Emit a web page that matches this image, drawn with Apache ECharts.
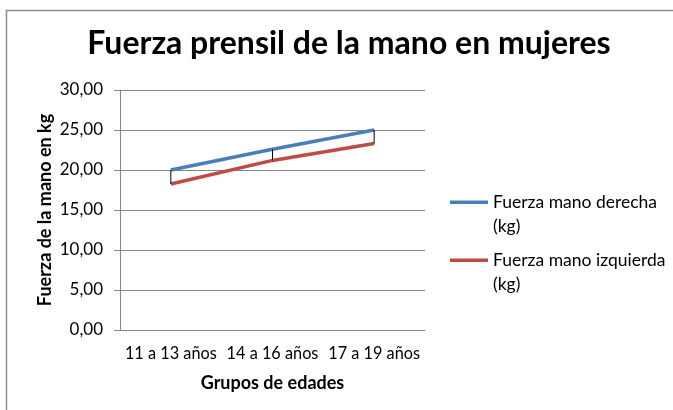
<!DOCTYPE html>
<html><head><meta charset="utf-8">
<script src="https://cdn.jsdelivr.net/npm/echarts@6/dist/echarts.min.js"></script>
<style>html,body{margin:0;padding:0;background:#fff}#c{width:673px;height:410px}</style>
</head><body><div id="c"></div>
<script>
const categories = ['11 a 13 años', '14 a 16 años', '17 a 19 años'];
const derecha = [20.0, 22.6, 25.0];
const izquierda = [18.25, 21.2, 23.3];
const yTicks = [0, 5, 10, 15, 20, 25, 30];

const FONT = 'Lato';
const chart = echarts.init(document.getElementById('c'));
chart.setOption({
  animation: false,
  textStyle: { fontFamily: FONT },
  graphic: [{ type: 'rect', shape: { x: 6.5, y: 10.5, width: 700, height: 420 }, style: { fill: 'none', stroke: '#8c8c8c', lineWidth: 1.5 }, silent: true }],
  title: { text: 'Fuerza prensil de la mano en mujeres', left: 344, top: 23, textAlign: 'center',
    textStyle: { fontFamily: FONT, fontSize: 32, fontWeight: 'bold', color: '#000' } },
  grid: { left: 120, top: 90, width: 305, height: 240 },
  legend: {
    orient: 'vertical', left: 445, top: 185, itemWidth: 38, itemHeight: 27, itemGap: 10,
    icon: 'path://M0,0H38V3.5H0Z M0,27H0.001',
    itemStyle: { borderWidth: 0 },
    formatter: n => n.replace(' (kg)', '\n(kg)'),
    textStyle: { fontFamily: FONT, fontSize: 17.5, color: '#000', lineHeight: 24 },
    data: ['Fuerza mano derecha (kg)', 'Fuerza mano izquierda (kg)']
  },
  xAxis: {
    type: 'category', data: categories, boundaryGap: true,
    name: 'Grupos de edades', nameLocation: 'middle', nameGap: 44,
    nameTextStyle: { fontFamily: FONT, fontSize: 18, fontWeight: 'bold', color: '#000' },
    axisLine: { lineStyle: { color: '#868686' } },
    axisTick: { show: false },
    axisLabel: { color: '#000', fontSize: 16.3, margin: 16, interval: 0 }
  },
  yAxis: {
    type: 'value', min: 0, max: 30, interval: 5,
    name: 'Fuerza de la mano en kg', nameLocation: 'middle', nameGap: 66,
    nameTextStyle: { fontFamily: FONT, fontSize: 18, fontWeight: 'bold', color: '#000' },
    axisLine: { show: true, lineStyle: { color: '#868686' } },
    axisTick: { show: true, length: 6, lineStyle: { color: '#868686' } },
    splitLine: { lineStyle: { color: '#868686' } },
    axisLabel: { color: '#000', fontSize: 17, margin: 17, formatter: v => v.toFixed(2).replace('.', ',') }
  },
  series: [
    { name: 'Fuerza mano derecha (kg)', type: 'line', data: derecha, symbol: 'none',
      lineStyle: { color: '#4a7ebb', width: 3.5 }, itemStyle: { color: '#4a7ebb' }, z: 3 },
    { name: 'Fuerza mano izquierda (kg)', type: 'line', data: izquierda, symbol: 'none',
      lineStyle: { color: '#be4b48', width: 3.5 }, itemStyle: { color: '#be4b48' }, z: 3 },
    { type: 'custom', data: categories.map((c, i) => [i, derecha[i], izquierda[i]]), z: 4,
      renderItem: (params, api) => {
        const a = api.coord([api.value(0), api.value(1)]);
        const b = api.coord([api.value(0), api.value(2)]);
        return { type: 'line', shape: { x1: a[0], y1: a[1], x2: b[0], y2: b[1] }, style: { stroke: '#000', lineWidth: 1 } };
      } }
  ]
});
</script></body></html>
